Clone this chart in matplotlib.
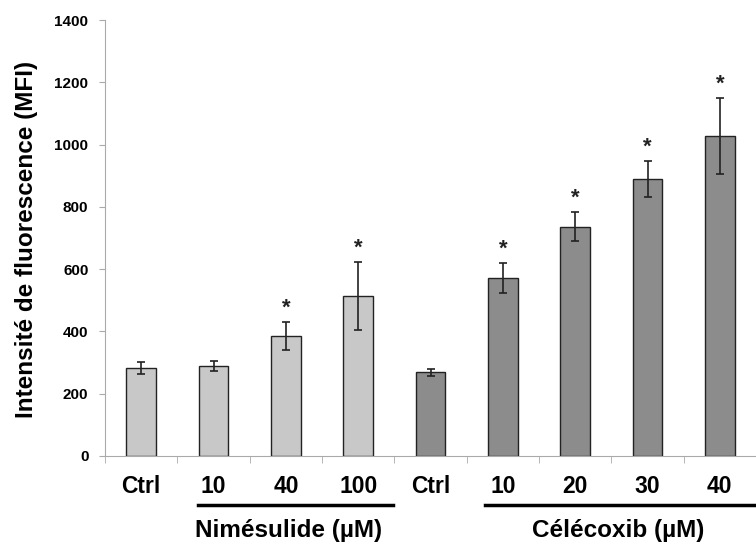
import matplotlib
matplotlib.use("Agg")
import matplotlib.pyplot as plt

categories = ["Ctrl", "10", "40", "100", "Ctrl", "10", "20", "30", "40"]
values = [282, 289, 385, 514, 268, 571, 736, 890, 1028]
errors = [18, 17, 46, 108, 12, 48, 47, 57, 123]
significant = [False, False, True, True, False, True, True, True, True]
groups = ["N", "N", "N", "N", "C", "C", "C", "C", "C"]
group_labels = ["Nimésulide (µM)", "Célécoxib (µM)"]
yticks = [0, 200, 400, 600, 800, 1000, 1200, 1400]

plt.rcParams['font.family'] = ['Liberation Sans', 'DejaVu Sans']

fig = plt.figure(figsize=(7.56, 5.44), dpi=100)
ax = fig.add_axes([0.139, 0.162, 0.861, 0.801])

colors = ["#c8c8c8" if g == "N" else "#8c8c8c" for g in groups]
x = list(range(len(categories)))
ax.bar(x, values, width=0.41, color=colors, edgecolor="#222222", linewidth=1.0, zorder=2)
ax.errorbar(x, values, yerr=errors, fmt="none", ecolor="#222222", elinewidth=1.2,
            capsize=3, capthick=1.2, zorder=3)
for xi, v, e, s in zip(x, values, errors, significant):
    if s:
        ax.text(xi, v + e + 10, "*", ha="center", va="bottom", fontsize=16,
                fontweight="bold", color="#222222")

ax.set_xlim(-0.5, 8.37)
ax.set_ylim(0, 1400)
ax.set_yticks(yticks)
ax.set_yticklabels([str(t) for t in yticks], fontsize=11, fontweight="bold")
ax.set_xticks(x)
ax.set_xticklabels(categories, fontsize=16.5, fontweight="bold")
ax.tick_params(axis="x", length=0, pad=14)
ax.tick_params(axis="y", length=4, color="#aaaaaa", direction="out", pad=8)
ax.set_xticks([i + 0.5 for i in range(-1, 9)], minor=True)
ax.tick_params(axis="x", which="minor", length=5, color="#aaaaaa", direction="out")
for s in ["top", "right"]:
    ax.spines[s].set_visible(False)
ax.spines["left"].set_color("#aaaaaa")
ax.spines["bottom"].set_color("#aaaaaa")
fig.text(27 / 756, 1 - 239 / 544, "Intensité de fluorescence (MFI)", rotation=90,
         ha="center", va="center", fontsize=17.5, fontweight="bold")

# group underlines and labels
trans = ax.get_xaxis_transform()
ax.plot([0.78, 3.48], [-0.112, -0.112], transform=trans, color="black", lw=2.5, clip_on=False)
ax.plot([4.75, 8.5], [-0.112, -0.112], transform=trans, color="black", lw=2.5, clip_on=False)
ax.text(2.04, -0.172, group_labels[0], transform=trans, ha="center", va="center",
        fontsize=17.5, fontweight="bold")
ax.text(6.59, -0.172, group_labels[1], transform=trans, ha="center", va="center",
        fontsize=17.5, fontweight="bold")

fig.savefig("out.png", dpi=100)
